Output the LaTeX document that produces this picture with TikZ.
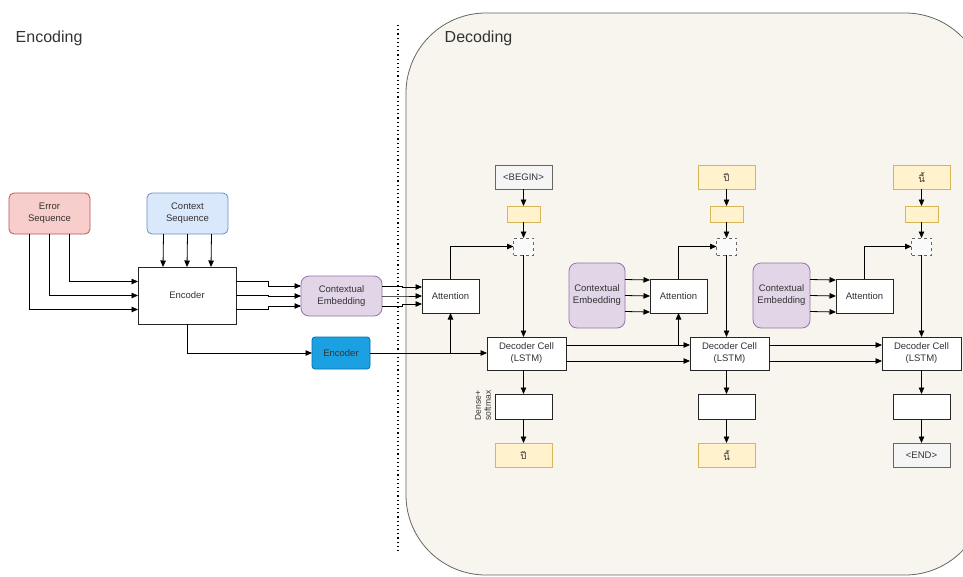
\documentclass[tikz,border=0pt]{standalone}
\usepackage{fontspec}
\setmainfont{Liberation Sans}
\newfontfamily\thaifont[Script=Thai]{Loma}
\usetikzlibrary{arrows.meta, calc, positioning}

\definecolor{errfill}{HTML}{F8CECC}
\definecolor{errdraw}{HTML}{B85450}
\definecolor{ctxfill}{HTML}{DAE8FC}
\definecolor{ctxdraw}{HTML}{6C8EBF}
\definecolor{cefill}{HTML}{E1D5E7}
\definecolor{cedraw}{HTML}{9673A6}
\definecolor{encblue}{HTML}{1BA1E2}
\definecolor{encbluedraw}{HTML}{006EAF}
\definecolor{tokfill}{HTML}{FFF2CC}
\definecolor{tokdraw}{HTML}{D6B656}
\definecolor{endfill}{HTML}{F5F5F5}
\definecolor{enddraw}{HTML}{666666}
\definecolor{decbg}{HTML}{F7F5EE}
\definecolor{txtgray}{HTML}{333333}

\begin{document}
\begin{tikzpicture}[x=1pt, y=-1pt, >={Triangle[length=6.5pt,width=5.5pt]},
    font=\fontsize{9.5}{12}\selectfont, text=txtgray, line width=0.8pt,
    box/.style={draw=black!85, fill=white, inner sep=0pt, outer sep=0pt, align=center},
    seqbox/.style={box, rounded corners=5pt, minimum width=81pt, minimum height=41pt},
    embbox/.style={box, rounded corners=8pt, fill=cefill, draw=cedraw},
    cellbox/.style={box, minimum width=79pt, minimum height=33pt},
    densebox/.style={box, minimum width=57pt, minimum height=25pt},
    attbox/.style={box, minimum width=57pt, minimum height=34pt},
    tokbox/.style={box, fill=tokfill, draw=tokdraw, minimum width=57pt, minimum height=24pt, font=\thaifont\fontsize{9.5}{12}\selectfont},
    endbox/.style={box, fill=endfill, draw=enddraw, minimum width=57pt, minimum height=24pt},
    vecbox/.style={box, fill=tokfill, draw=tokdraw, minimum width=33pt, minimum height=16pt},
    catbox/.style={box, fill=white!96!gray, draw=enddraw, dashed, minimum width=20pt, minimum height=17pt}]
    \useasboundingbox (0,0) rectangle (963,576);
    \clip (0,0) rectangle (963,576);

    % Decoding area
    \draw[draw=black!60, fill=decbg, rounded corners=80pt] (406,13) rectangle (985,575);
    \draw[line width=1.2pt, dash pattern=on 1.2pt off 3pt] (398,25) -- (398,552);
    \node[anchor=west, font=\fontsize{16}{18}\selectfont] (enctitle) at (12,38) {Encoding};
    \node[anchor=west, font=\fontsize{16}{18}\selectfont] (dectitle) at (441,38) {Decoding};

    % Encoding
    \node[seqbox, fill=errfill, draw=errdraw] (err) at (49.5,213.5) {Error\\Sequence};
    \node[seqbox, fill=ctxfill, draw=ctxdraw] (ctx) at (187.5,213.5) {Context\\Sequence};
    \node[box, minimum width=98pt, minimum height=57pt] (enc) at (187,295.5) {Encoder};
    \node[embbox, minimum width=81pt, minimum height=40pt] (ce1) at (341.5,296) {Contextual\\Embedding};
    \node[box, rounded corners=3pt, fill=encblue, draw=encbluedraw, minimum width=58pt, minimum height=32pt] (encb) at (341,353) {Encoder};

    % Decoding, step 1
    \node[endbox] (begin) at (523.5,177) {<BEGIN>};
    \node[vecbox, below=17pt of begin] (emb1) {};
    \node[catbox, below=16pt of emb1] (cat1) {};
    \node[attbox] (att1) at (450.5,296) {Attention};
    \node[cellbox] (dec1) at (526.5,353.5) {Decoder Cell\\(LSTM)};
    \node[densebox] (dense1) at (523.5,406.5) {};
    \node[tokbox, below=24pt of dense1] (out1) {ปี};
    \node[rotate=90, align=center, font=\fontsize{8.5}{10}\selectfont] (dslbl) at ($(dense1.west)+(-12,-1)$) {Dense+\\softmax};

    % Decoding, step 2
    \node[tokbox] (in2) at (726.5,177) {ปี};
    \node[vecbox, below=17pt of in2] (emb2) {};
    \node[catbox, below=16pt of emb2] (cat2) {};
    \node[embbox, minimum width=56pt, minimum height=65pt] (ce2) at (597,295.5) {Contextual\\Embedding};
    \node[attbox] (att2) at (678.5,296) {Attention};
    \node[cellbox] (dec2) at (729.5,353.5) {Decoder Cell\\(LSTM)};
    \node[densebox] (dense2) at (726.5,406.5) {};
    \node[tokbox, below=24pt of dense2] (out2) {นี้};

    % Decoding, step 3
    \node[tokbox] (in3) at (921.5,177) {นี้};
    \node[vecbox, below=17pt of in3] (emb3) {};
    \node[catbox, below=16pt of emb3] (cat3) {};
    \node[embbox, minimum width=57pt, minimum height=65pt] (ce3) at (781.5,295.5) {Contextual\\Embedding};
    \node[attbox] (att3) at (864.5,296) {Attention};
    \node[cellbox] (dec3) at (921.5,353.5) {Decoder Cell\\(LSTM)};
    \node[densebox] (dense3) at (921.5,406.5) {};
    \node[endbox, below=24pt of dense3] (out3) {<END>};

    % Encoder inputs and outputs
    \foreach \dx/\dy in {-20.5/14, 0/0, 19.5/-14}
        \draw[->] ($(err.south)+(\dx,0)$) |- ($(enc.west)+(0,\dy)$);
    \foreach \dx in {-24,0,24}
        \draw[->] ($(ctx.south)+(\dx,0)$) -- ($(enc.north)+(\dx,0)$);
    \foreach \a/\b in {-14/-10, 0/0, 14/10}
        \draw[->] ($(enc.east)+(0,\a)$) -- ++(32,0) |- ($(ce1.west)+(0,\b)$);
    \foreach \a/\b in {-10/-9, 0/0, 10/8}
        \draw[->] ($(ce1.east)+(0,\a)$) -- ++(20,0) |- ($(att1.west)+(0,\b)$);
    \draw[->] (enc.south) |- (encb.west);
    \draw[->] (encb.east) -- (encb.east -| dec1.west);
    \draw[->] (encb.east -| att1.south) -- (att1.south);

    % Decoder columns
    \foreach \i/\s in {1/begin, 2/in2, 3/in3} {
        \draw[->] (\s) -- (emb\i);
        \draw[->] (emb\i) -- (cat\i);
        \draw[->] (cat\i) -- (cat\i |- dec\i.north);
        \draw[->] (dense\i |- dec\i.south) -- (dense\i);
        \draw[->] (dense\i) -- (out\i);
        \draw[->] (att\i.north) |- (cat\i.west);
    }
    \foreach \d in {-16,0,16} {
        \draw[->] ($(ce2.east)+(0,\d)$) -- ($(att2.west)+(0,\d)$);
        \draw[->] ($(ce3.east)+(0,\d)$) -- ($(att3.west)+(0,\d)$);
    }

    % Cell to cell
    \coordinate (h12) at ($(dec1.east)+(0,-8.5)$);
    \foreach \d in {-8.5,7.5} {
        \draw[->] ($(dec1.east)+(0,\d)$) -- ($(dec2.west)+(0,\d)$);
        \draw[->] ($(dec2.east)+(0,\d)$) -- ($(dec3.west)+(0,\d)$);
    }
    \draw[->] (h12 -| att2.south) -- (att2.south);
\end{tikzpicture}
\end{document}
